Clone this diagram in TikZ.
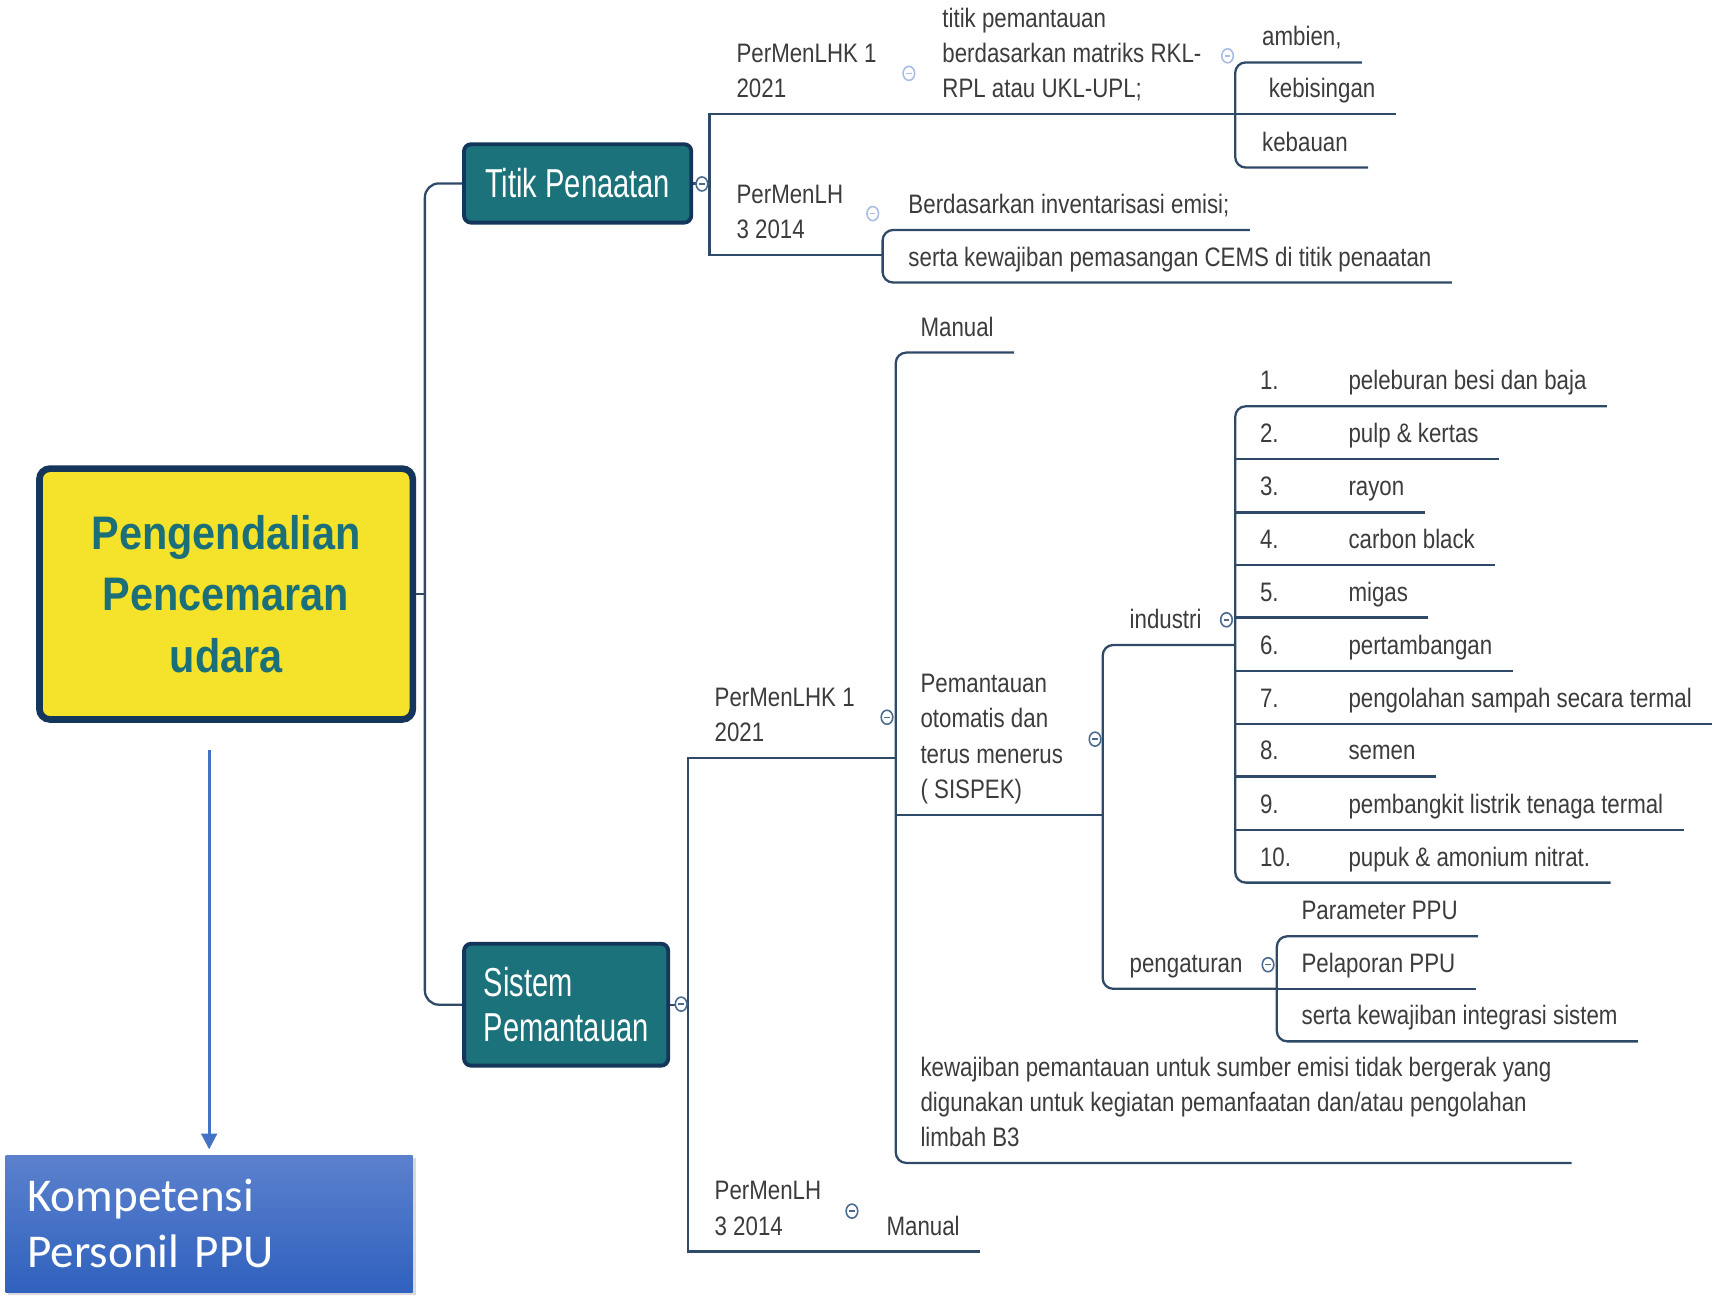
\documentclass[tikz,border=0pt]{standalone}
\usepackage{fontspec}
\usetikzlibrary{arrows.meta,calc,shadows,shapes.geometric}
\newfontfamily\mapfont[FakeStretch=0.835]{Liberation Sans}
\newfontfamily\boxfont[FakeStretch=0.72]{Liberation Sans}
\newfontfamily\rootfont[FakeStretch=0.88]{Liberation Sans Bold}
\newfontfamily\kompfont{Carlito}
\newcommand{\itemno}[1]{\makebox[25.2pt][l]{#1}}
\definecolor{linkc}{HTML}{2E4A66}
\definecolor{txtc}{HTML}{3C3C3C}
\definecolor{tealc}{HTML}{1B727A}
\definecolor{navyc}{HTML}{14365A}
\definecolor{yelc}{HTML}{F5E22A}
\definecolor{roottxt}{HTML}{1B6F78}
\definecolor{foldc}{HTML}{4A6A8E}
\definecolor{faintc}{HTML}{A9BCE6}
\definecolor{arrowc}{HTML}{4472C4}
\definecolor{kompt}{HTML}{5B81CD}
\definecolor{kompb}{HTML}{3061BE}

\begin{document}
\begin{tikzpicture}[x=0.01095cm,y=0.01095cm]
    \tikzstyle{link}=[draw=linkc,line width=0.65pt]
    \tikzstyle{topic}=[anchor=south west,xshift=-5.6pt,inner xsep=5.6pt,inner ysep=1.5pt,align=left,text=txtc,font=\mapfont\fontsize{7.6}{10}\selectfont,execute at end node=\strut]
    \tikzstyle{fold}=[ellipse,draw=foldc,fill=white,line width=0.45pt,inner sep=0pt,minimum width=3.3pt,minimum height=4pt,text=foldc]
    \tikzstyle{faint}=[fold,draw=faintc,text=faintc]
    \tikzstyle{branch}=[draw=navyc,line width=1.1pt,fill=tealc,rounded corners=2pt,text=white,font=\boxfont\fontsize{11.5}{12.8}\selectfont]
    \useasboundingbox (0,0) rectangle (1568,-1185);
    \node[draw=navyc,line width=1.9pt,fill=yelc,rounded corners=3pt,minimum width=106.3pt,minimum height=71.4pt,align=center,text=roottxt,font=\rootfont\fontsize{13.4}{17.5}\selectfont] (main) at (206.5,-542.5) {Pengendalian\\Pencemaran\\udara};
    \node[branch,minimum width=64.7pt,minimum height=22.3pt] (tp) at (527.5,-167.5) {Titik Penaatan};
    \node[branch,minimum width=58.1pt,minimum height=34.7pt,align=left] (sp) at (517,-917.5) {Sistem\\Pemantauan};
    \node[text width=103.5pt,inner xsep=6.2pt,minimum height=38.95pt,align=left,top color=kompt,bottom color=kompb,text=white,font=\kompfont\fontsize{13.4}{15.9}\selectfont,drop shadow={opacity=0.3,shadow xshift=0.8pt,shadow yshift=-0.8pt}] (komp) at (191,-1117.5) {Kompetensi\\Personil PPU};
    \draw[arrowc,line width=0.8pt,-{Triangle[width=4.5pt,length=4.5pt]}] ($(komp.north |- main.south)+(0,-25)$) -- ([yshift=1.5pt]komp.north);
    \coordinate (rb) at (388,0);
    \coordinate (b1) at (648,0);
    \coordinate (b2) at (838,0);
    \coordinate (b3) at (1128,0);
    \coordinate (b4) at (806,0);
    \coordinate (c1) at (628,0);
    \coordinate (c2) at (818,0);
    \coordinate (c3) at (1007,0);
    \coordinate (c4) at (1128,0);
    \coordinate (c5) at (1166,0);
    \coordinate (c6) at (786,0);
    \node[topic] (a1) at (672,-104) {PerMenLHK 1\\2021};
    \node[topic] (a2) at (860,-104) {titik pemantauan\\berdasarkan matriks RKL-\\RPL atau UKL-UPL;};
    \node[topic] (a3) at (1152,-57) {ambien,};
    \node[topic] (a4) at (1158,-104) {kebisingan};
    \node[topic] (a5) at (1152,-153) {kebauan};
    \node[topic] (a6) at (672,-233) {PerMenLH\\3 2014};
    \node[topic] (a7) at (829,-210) {Berdasarkan inventarisasi emisi;};
    \node[topic] (a8) at (829,-258) {serta kewajiban pemasangan CEMS di titik penaatan};
    \node[topic] (s1) at (652,-692) {PerMenLHK 1\\2021};
    \node[topic] (s2) at (840,-322) {Manual};
    \node[topic] (s3) at (840,-744) {Pemantauan\\otomatis dan\\terus menerus\\( SISPEK)};
    \node[topic] (s4) at (1031,-589) {industri};
    \node[topic] (s5) at (1031,-903) {pengaturan};
    \node[topic] (s6) at (840,-1062) {kewajiban pemantauan untuk sumber emisi tidak bergerak yang\\digunakan untuk kegiatan pemanfaatan dan/atau pengolahan\\limbah B3};
    \node[topic] (s7) at (652,-1143) {PerMenLH\\3 2014};
    \node[topic] (s8) at (809,-1143) {Manual};
    \node[topic] (i1) at (1150,-371) {\itemno{1.}peleburan besi dan baja};
    \node[topic] (i2) at (1150,-419) {\itemno{2.}pulp \& kertas};
    \node[topic] (i3) at (1150,-468) {\itemno{3.}rayon};
    \node[topic] (i4) at (1150,-516) {\itemno{4.}carbon black};
    \node[topic] (i5) at (1150,-564) {\itemno{5.}migas};
    \node[topic] (i6) at (1150,-613) {\itemno{6.}pertambangan};
    \node[topic] (i7) at (1150,-661) {\itemno{7.}pengolahan sampah secara termal};
    \node[topic] (i8) at (1150,-709) {\itemno{8.}semen};
    \node[topic] (i9) at (1150,-758) {\itemno{9.}pembangkit listrik tenaga termal};
    \node[topic] (i10) at (1150,-806) {\itemno{10.}pupuk \& amonium nitrat.};
    \node[topic] (p1) at (1188,-855) {Parameter PPU};
    \node[topic] (p2) at (1188,-903) {Pelaporan PPU};
    \node[topic] (p3) at (1188,-951) {serta kewajiban integrasi sistem};
    \draw[link] (main.east) -- (rb |- main.east);
    \draw[link,rounded corners=4pt] (tp.west) -| (rb |- sp.west) -- (sp.west);
    \draw[link] (tp.east) -- (b1 |- tp.east);
    \draw[link] (b2 |- a1.south) -- (b1 |- a1.south) -- (b1 |- a6.south) -- (b4 |- a6.south);
    \draw[link] (b2 |- a2.south) -- (b3 |- a2.south);
    \draw[link,rounded corners=3pt] (a3.south east) -- (b3 |- a3.south) -- (b3 |- a5.south) -- (a5.south east);
    \draw[link] (b3 |- a4.south) -- (a4.south east);
    \draw[link,rounded corners=3pt] (a7.south east) -- (b4 |- a7.south) -- (b4 |- a8.south) -- (a8.south east);
    \draw[link] (sp.east) -- (c1 |- sp.east);
    \draw[link] (c2 |- s1.south) -- (c1 |- s1.south) -- (c1 |- s7.south) -- (c6 |- s7.south);
    \draw[link] (c6 |- s8.south) -- (s8.south east);
    \draw[link,rounded corners=3pt] (s2.south east) -- (c2 |- s2.south) -- (c2 |- s6.south) -- (s6.south east);
    \draw[link] (c2 |- s3.south) -- (c3 |- s3.south);
    \draw[link,rounded corners=3pt] (c4 |- s4.south) -- (c3 |- s4.south) -- (c3 |- s5.south) -- (c5 |- s5.south);
    \draw[link,rounded corners=3pt] (i1.south east) -- (c4 |- i1.south) -- (c4 |- i10.south) -- (i10.south east);
    \draw[link] (c4 |- i2.south) -- (i2.south east);
    \draw[link] (c4 |- i3.south) -- (i3.south east);
    \draw[link] (c4 |- i4.south) -- (i4.south east);
    \draw[link] (c4 |- i5.south) -- (i5.south east);
    \draw[link] (c4 |- i6.south) -- (i6.south east);
    \draw[link] (c4 |- i7.south) -- (i7.south east);
    \draw[link] (c4 |- i8.south) -- (i8.south east);
    \draw[link] (c4 |- i9.south) -- (i9.south east);
    \draw[link,rounded corners=3pt] (p1.south east) -- (c5 |- p1.south) -- (c5 |- p3.south) -- (p3.south east);
    \draw[link] (c5 |- p2.south) -- (p2.south east);
    \node[fold] (f1) at (641,-168) {\rule{1.5pt}{0.4pt}};
    \node[faint] (f2) at (830,-67) {\rule{1.5pt}{0.4pt}};
    \node[faint] (f3) at (1121,-51) {\rule{1.5pt}{0.4pt}};
    \node[faint] (f4) at (797,-195) {\rule{1.5pt}{0.4pt}};
    \node[fold] (f5) at (622,-917) {\rule{1.5pt}{0.4pt}};
    \node[fold] (f6) at (810,-655) {\rule{1.5pt}{0.4pt}};
    \node[fold] (f7) at (1000,-675) {\rule{1.5pt}{0.4pt}};
    \node[fold] (f8) at (1120,-566) {\rule{1.5pt}{0.4pt}};
    \node[fold] (f9) at (1158,-881) {\rule{1.5pt}{0.4pt}};
    \node[fold] (f10) at (778,-1106) {\rule{1.5pt}{0.4pt}};
\end{tikzpicture}
\end{document}
